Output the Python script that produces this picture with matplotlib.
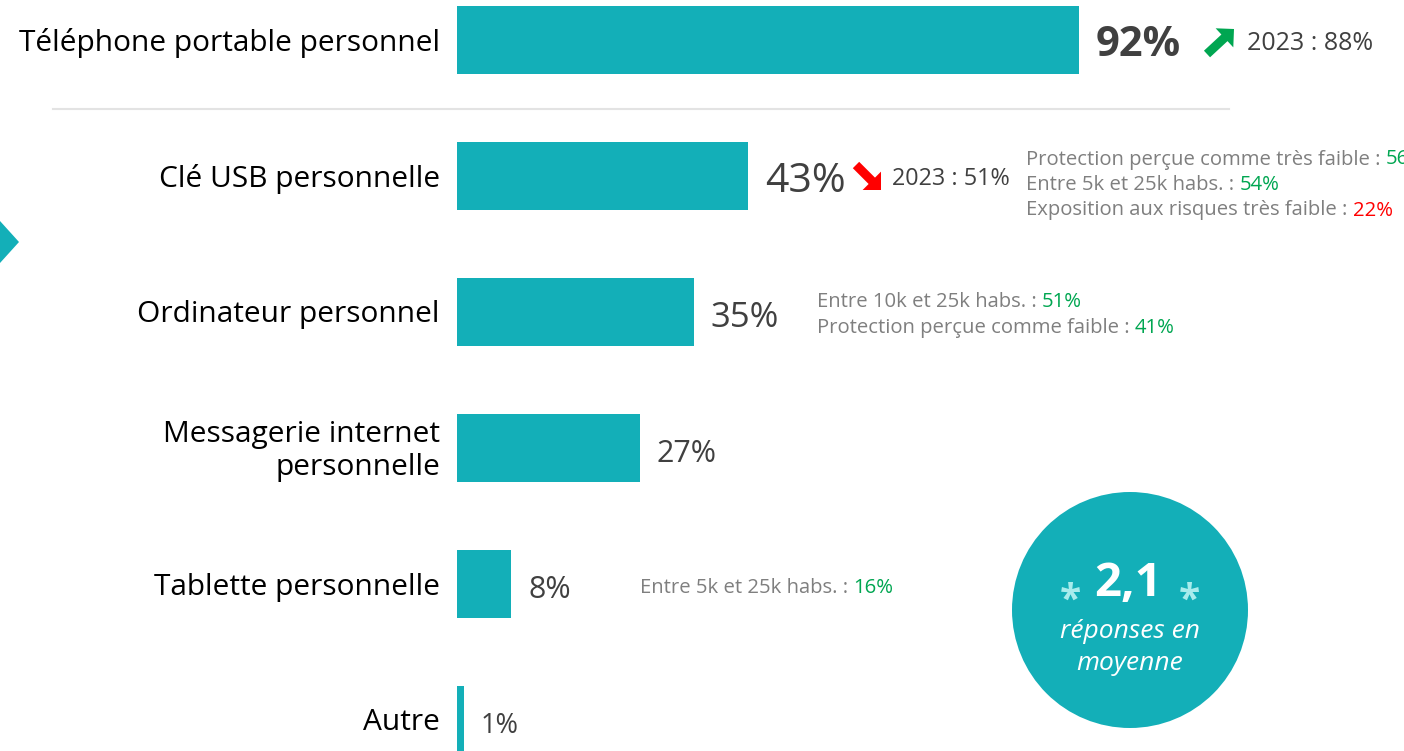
import matplotlib.pyplot as plt
from matplotlib.patches import Circle, Polygon, FancyArrow

plt.rcParams['font.family'] = ['Open Sans', 'DejaVu Sans']

# données
categories = ['Téléphone portable personnel', 'Clé USB personnelle', 'Ordinateur personnel',
              'Messagerie internet\npersonnelle', 'Tablette personnelle', 'Autre']
valeurs = [92, 43, 35, 27, 8, 1]
tailles_val = [30, 29.5, 25, 22, 22, 19.5]
poids_val = ['bold', 'normal', 'normal', 'normal', 'normal', 'normal']

# détails à droite : (ligne, [(texte gris, valeur, couleur)])
details = {
    1: [('Protection perçue comme très faible : ', '56%', 'green'),
        ('Entre 5k et 25k habs. : ', '54%', 'green'),
        ('Exposition aux risques très faible : ', '22%', 'red')],
    2: [('Entre 10k et 25k habs. : ', '51%', 'green'),
        ('Protection perçue comme faible : ', '41%', 'green')],
    4: [('Entre 5k et 25k habs. : ', '16%', 'green')],
}
details_x = {1: 1026, 2: 817, 4: 640}
evol_2023 = {0: ('2023 : 88%', 'up'), 1: ('2023 : 51%', 'down')}
moyenne = '2,1'

TEAL = '#13AFB8'
GRIS = '#404040'
GRIS_C = '#7F7F7F'
COUL = {'green': '#00A651', 'red': '#FF0000'}

W, H = 1404, 751
fig = plt.figure(figsize=(W / 100, H / 100), dpi=100)

# axe des barres : 6.76 px par point, départ à x=457
ax = fig.add_axes([457 / W, 0, 676 / W, 1])
ax.set_xlim(0, 100)
ax.set_ylim((H - 40) / 136, -40 / 136)
ax.axis('off')

ypos = list(range(len(categories)))
ax.barh(ypos, valeurs, height=0.5, color=TEAL)

for i, (cat, v) in enumerate(zip(categories, valeurs)):
    ax.annotate(cat, (0, i), xytext=(-17, -3), textcoords='offset pixels',
                ha='right', va='center', fontsize=21.5, color='black', linespacing=1.15,
                annotation_clip=False)
    ax.annotate(f'{v}%', (v, i), xytext=(17, -6), textcoords='offset pixels',
                ha='left', va='center', fontsize=tailles_val[i], fontweight=poids_val[i],
                color=GRIS, annotation_clip=False)

# calque en pixels pour les décorations
ov = fig.add_axes([0, 0, 1, 1], zorder=5)
ov.set_xlim(0, W)
ov.set_ylim(H, 0)
ov.axis('off')
ov.patch.set_alpha(0)

# ligne de séparation
ov.plot([53, 1229], [109, 109], color='#E3E3E3', lw=1.5)

# triangle à gauche
ov.add_patch(Polygon([(0, 221), (19, 242), (0, 263)], closed=True, color=TEAL, lw=0))

# flèches et comparaison 2023
ov.add_patch(FancyArrow(1207, 54, 27, -25, width=9, head_width=26, head_length=13,
                        length_includes_head=True, color='#00A651', lw=0))
ov.text(1247, 44, evol_2023[0][0], fontsize=18, color=GRIS, va='center', ha='left')
ov.add_patch(FancyArrow(856, 165, 25, 25, width=9, head_width=26, head_length=13,
                        length_includes_head=True, color='#FF0000', lw=0))
ov.text(892, 179, evol_2023[1][0], fontsize=16.8, color=GRIS, va='center', ha='left')

# détails
FS = 14.6
for row, lignes in details.items():
    n = len(lignes)
    yc = 40 + 136 * row
    pas = 25.5
    y0 = yc - pas * (n - 1) / 2 + (9 if n == 3 else 3)
    if row == 4:
        y0 = yc + 4
    for k, (t, val, c) in enumerate(lignes):
        txt = ov.text(details_x[row], y0 + k * pas, t, fontsize=FS, color=GRIS_C,
                      ha='left', va='center')
        ov.annotate(val, xy=(1, 0), xycoords=txt, ha='left', va='bottom',
                    fontsize=FS, color=COUL[c], annotation_clip=False)

# pastille moyenne
ov.add_patch(Circle((1130, 610), 118, color=TEAL, lw=0))
ov.text(1128, 583, moyenne, fontsize=34, fontweight='bold', color='white',
        ha='center', va='center')
for xs in (1070, 1189):
    ov.text(xs, 601, '*', fontsize=28, fontweight='bold', color='#A8ECEC',
            ha='center', va='center')
ov.text(1130, 632, 'réponses en', fontsize=19, style='italic', color='white',
        ha='center', va='center')
ov.text(1130, 664, 'moyenne', fontsize=19, style='italic', color='white',
        ha='center', va='center')

fig.savefig('out.png', dpi=100)
